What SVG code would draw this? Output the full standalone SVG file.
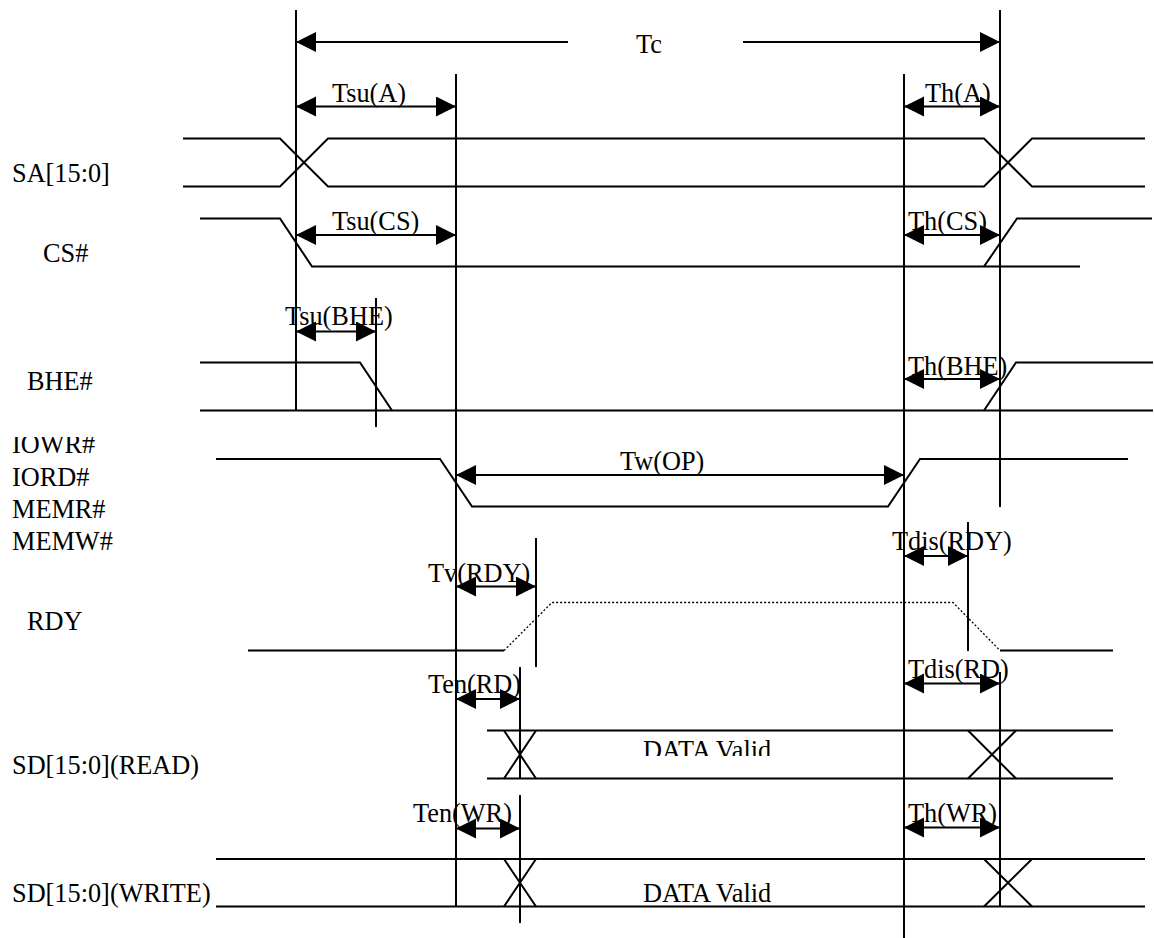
<svg xmlns="http://www.w3.org/2000/svg" width="1154" height="938" viewBox="0 0 1154 938">
<style>
  .sig { fill: none; stroke: #000; stroke-width: 2; }
  .dot { fill: none; stroke: #000; stroke-width: 1.3; stroke-dasharray: 2 2; }
  .ref { fill: none; stroke: #000; stroke-width: 2; }
  .dim { fill: none; stroke: #000; stroke-width: 2; }
  .dim2 { marker-start: url(#ah); marker-end: url(#ah); }
  .dim1 { marker-end: url(#ah); }
  text { font-family: "Liberation Serif", "Times New Roman", serif; font-size: 26.3px; fill: #000; }
</style>
<defs>
  <marker id="ah" markerUnits="userSpaceOnUse" markerWidth="21" markerHeight="21" refX="20" refY="10" orient="auto-start-reverse" viewBox="0 0 21 21">
    <path d="M0,0 L20,10 L0,20 z" fill="#000"/>
  </marker>
  <clipPath id="clipRead">
    <rect x="600" y="720" width="250" height="36"/>
  </clipPath>
  <clipPath id="clipIowr">
    <rect x="0" y="437" width="150" height="30"/>
  </clipPath>
</defs>
<rect width="1154" height="938" fill="#fff"/>

<g id="reference-lines">
  <path class="ref" d="M296,10 V411"/>
  <path class="ref" d="M456,74 V907"/>
  <path class="ref" d="M904,74 V938"/>
  <path class="ref" d="M1000,10 V507"/>
  <path class="ref" d="M376,298 V427"/>
  <path class="ref" d="M536,538 V667"/>
  <path class="ref" d="M968,522 V651"/>
  <path class="ref" d="M520,667 V778"/>
  <path class="ref" d="M520,795 V923"/>
  <path class="ref" d="M1000,672 V907"/>
</g>

<g id="signal-SA">
  <text x="12" y="182">SA[15:0]</text>
  <path class="sig" d="M183,138.5 H280 L328,186.5 H984 L1032,138.5 H1145"/>
  <path class="sig" d="M183,186.5 H280 L328,138.5 H984 L1032,186.5 H1145"/>
</g>

<g id="signal-CS">
  <text x="43" y="262">CS#</text>
  <path class="sig" d="M200,218.5 H280 L312,266.5 H1080"/>
  <path class="sig" d="M984,266.5 L1017,218.5 H1152"/>
</g>

<g id="signal-BHE">
  <text x="27" y="390">BHE#</text>
  <path class="sig" d="M200,362.5 H360 L392,410.5"/>
  <path class="sig" d="M200,410.5 H1153"/>
  <path class="sig" d="M984,410.5 L1016,362.5 H1153"/>
</g>

<g id="signal-IOWR">
  <text x="12" y="452.5" clip-path="url(#clipIowr)">IOWR#</text>
  <text x="12" y="485.5">IORD#</text>
  <text x="12" y="518">MEMR#</text>
  <text x="12" y="550">MEMW#</text>
  <path class="sig" d="M216,459 H440 L472,506.5 H888 L920,459 H1128"/>
</g>

<g id="signal-RDY">
  <text x="27" y="630">RDY</text>
  <path class="sig" d="M248,650.5 H504"/>
  <path class="dot" d="M504,650.5 L552,602.5 H953 L1000,650.5"/>
  <path class="sig" d="M1000,650.5 H1113"/>
</g>

<g id="signal-SD-READ">
  <text x="12" y="774">SD[15:0](READ)</text>
  <path class="sig" d="M487,730.5 H1113 M487,778.5 H1113"/>
  <path class="sig" d="M504,730.5 L536,778.5 M504,778.5 L536,730.5"/>
  <path class="sig" d="M968,730.5 L1016,778.5 M968,778.5 L1016,730.5"/>
  <text x="643" y="759" clip-path="url(#clipRead)">DATA Valid</text>
</g>

<g id="signal-SD-WRITE">
  <text x="12" y="901.5">SD[15:0](WRITE)</text>
  <path class="sig" d="M216,859 H1145 M216,906.5 H1145"/>
  <path class="sig" d="M504,859 L536,906.5 M504,906.5 L536,859"/>
  <path class="sig" d="M984,859 L1032,906.5 M984,906.5 L1032,859"/>
  <text x="643" y="901.5">DATA Valid</text>
</g>

<g id="connectors">
  <path class="dim dim1" d="M568,42 H296"/>
  <path class="dim dim1" d="M743,42 H1000"/>
  <path class="dim dim2" d="M296,106.5 H456"/>
  <path class="dim dim2" d="M904,106.5 H1000"/>
  <path class="dim dim2" d="M296,235 H456"/>
  <path class="dim dim2" d="M904,235 H1000"/>
  <path class="dim dim2" d="M296,331.5 H376"/>
  <path class="dim dim2" d="M904,379 H1000"/>
  <path class="dim dim2" d="M456,475 H904"/>
  <path class="dim dim2" d="M456,586.5 H536"/>
  <path class="dim dim2" d="M904,556 H968"/>
  <path class="dim dim2" d="M456,699 H520"/>
  <path class="dim dim2" d="M904,683.5 H1000"/>
  <path class="dim dim2" d="M456,828.5 H520"/>
  <path class="dim dim2" d="M904,827.5 H1000"/>
</g>

<g id="timing-labels">
  <text x="636" y="53">Tc</text>
  <text x="332" y="101.5">Tsu(A)</text>
  <text x="925" y="101.5">Th(A)</text>
  <text x="332" y="230">Tsu(CS)</text>
  <text x="908" y="230">Th(CS)</text>
  <text x="285" y="325">Tsu(BHE)</text>
  <text x="908" y="375">Th(BHE)</text>
  <text x="620" y="470">Tw(OP)</text>
  <text x="892" y="550">Tdis(RDY)</text>
  <text x="428" y="581.5">Tv(RDY)</text>
  <text x="428" y="693">Ten(RD)</text>
  <text x="908" y="678">Tdis(RD)</text>
  <text x="413" y="821.5">Ten(WR)</text>
  <text x="908" y="821.5">Th(WR)</text>
</g>
</svg>
